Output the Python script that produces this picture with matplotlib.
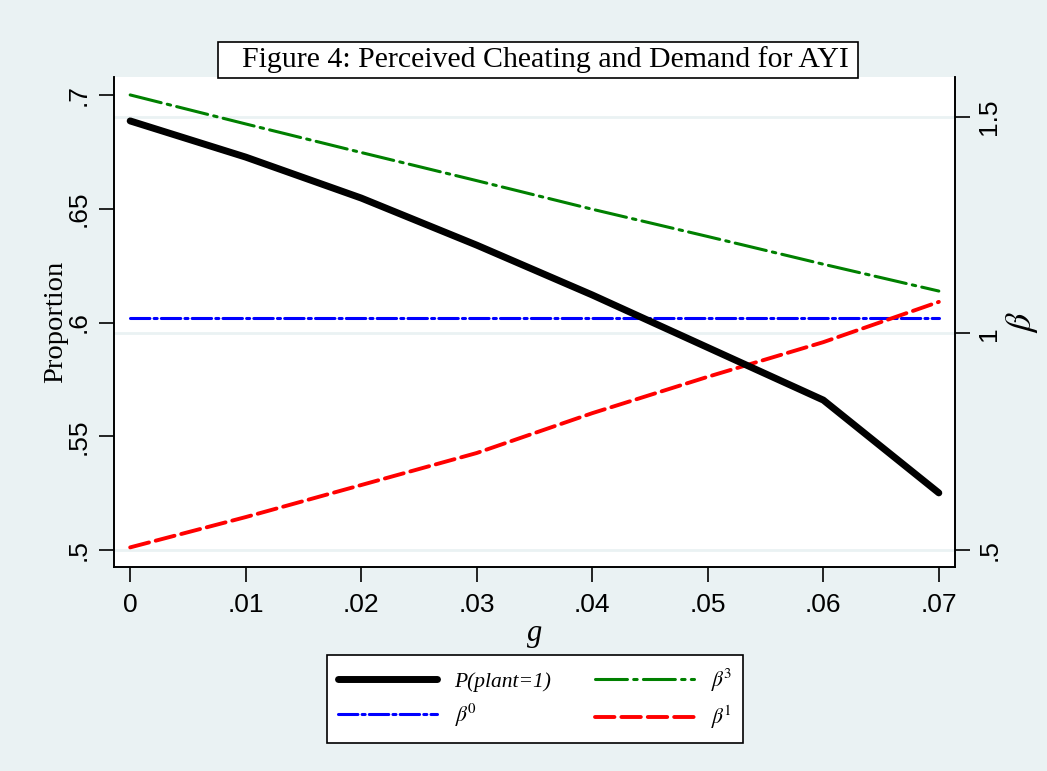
import matplotlib
matplotlib.use("Agg")
import matplotlib.pyplot as plt
from matplotlib.lines import Line2D
from matplotlib.patches import Rectangle

plt.rcParams['mathtext.fontset'] = 'stix'
plt.rcParams['lines.scale_dashes'] = False

# ---- data ----
g = [0.0, 0.01, 0.02, 0.03, 0.04, 0.05, 0.06, 0.07]
p_plant = [0.6886, 0.6727, 0.6547, 0.6340, 0.6121, 0.5890, 0.5659, 0.5251]
beta3 = [1.551, 1.484, 1.418, 1.353, 1.287, 1.224, 1.160, 1.098]
beta0 = [1.035, 1.035, 1.035, 1.035, 1.035, 1.035, 1.035, 1.035]
beta1 = [0.506, 0.576, 0.650, 0.724, 0.816, 0.900, 0.980, 1.073]

xticks = [0, 0.01, 0.02, 0.03, 0.04, 0.05, 0.06, 0.07]
xticklabels = ["0", ".01", ".02", ".03", ".04", ".05", ".06", ".07"]
lticks = [0.5, 0.55, 0.6, 0.65, 0.7]
lticklabels = [".5", ".55", ".6", ".65", ".7"]
rticks = [0.5, 1.0, 1.5]
rticklabels = [".5", "1", "1.5"]

BG = "#EAF2F3"
GRID = "#EAF2F3"
SANS = "Liberation Sans"
SERIF = "Liberation Serif"

fig = plt.figure(figsize=(10.47, 7.71), dpi=100, facecolor=BG)

# primary axes: beta axis (right side), drawn first so grid stays underneath
ax = fig.add_axes([114/1047, 1-567/771, (955-114)/1047, (567-77)/771])
ax.set_facecolor("white")
ax.set_xlim(-0.0014, 0.0714)
ax.set_ylim(0.4607, 1.5924)
for t in rticks:
    ax.axhline(t, color=GRID, lw=2.0, zorder=0.5)

ax.plot(g, beta3, color="#008000", lw=2.2, dashes=(23, 4.5, 2.5, 4.5),
        dash_capstyle="round", zorder=3)
ax.plot(g, beta0, color="#0000FF", lw=2.2, dashes=(14, 3, 2.2, 3),
        dash_capstyle="round", zorder=3)
ax.plot(g, beta1, color="#FF0000", lw=2.8, dashes=(14, 5),
        dash_capstyle="round", zorder=3)

ax.set_xticks(xticks)
ax.set_xticklabels(xticklabels, fontfamily=SANS, fontsize=19)
ax.set_xlabel("g", fontfamily=SERIF, style="italic", fontsize=22, labelpad=1)

# secondary axes: proportion (left side)
ax2 = ax.twinx()
ax2.yaxis.tick_left()
ax2.yaxis.set_label_position("left")
ax2.set_ylim(0.49253, 0.70791)
ax2.set_yticks(lticks)
ax2.set_yticklabels(lticklabels, rotation=90, va="center", fontfamily=SANS, fontsize=19)
ax2.plot(g, p_plant, color="black", lw=5.0, solid_capstyle="round",
         solid_joinstyle="round", zorder=4)
ax2.set_ylabel("Proportion", fontfamily=SERIF, fontsize=20.5, labelpad=-1)

# put beta axis back on the right
ax.yaxis.tick_right()
ax.yaxis.set_label_position("right")
ax.set_yticks(rticks)
ax.set_yticklabels(rticklabels, rotation=90, va="center", fontfamily=SANS, fontsize=19)
ax.set_ylabel(r"$\beta$", fontsize=26, rotation=90, labelpad=2)

for a in (ax, ax2):
    a.spines["top"].set_visible(False)
    for s in ("left", "right", "bottom"):
        a.spines[s].set_linewidth(1.2)
        a.spines[s].set_color("black")
    a.tick_params(axis="both", direction="out", length=11, width=1.2, pad=8)
ax.tick_params(axis="y", pad=5)
ax2.tick_params(axis="y", pad=6)

# title box
fig.patches.append(Rectangle((218/1047, 1-78/771), (858-218)/1047, 36/771,
                             transform=fig.transFigure, facecolor="white",
                             edgecolor="black", lw=1.2, zorder=1))
fig.text(545/1047, 1-60/771, "Figure 4: Perceived Cheating and Demand for AYI",
         ha="center", va="center", fontfamily=SERIF, fontsize=21.5, zorder=2)

# legend
h = [Line2D([], [], color="black", lw=5.0, solid_capstyle="round"),
     Line2D([], [], color="#0000FF", lw=2.2, dashes=(14, 3, 2.2, 3), dash_capstyle="round"),
     Line2D([], [], color="#008000", lw=2.2, dashes=(23, 4.5, 2.5, 4.5), dash_capstyle="round"),
     Line2D([], [], color="#FF0000", lw=2.8, dashes=(14, 5), dash_capstyle="round")]
labels = ["P(plant=1)", r"$\beta^{\!\mathit{0}}$", r"$\beta^{\!\mathit{3}}$", r"$\beta^{\!\mathit{1}}$"]
leg = fig.legend(h, labels, ncol=2, loc="center",
                 bbox_to_anchor=(535/1047, 1-699/771),
                 prop={"family": SERIF, "style": "italic", "size": 15.5},
                 frameon=True, fancybox=False, edgecolor="black", facecolor="white",
                 framealpha=1, handlelength=4.6, handletextpad=0.8,
                 columnspacing=2.0, labelspacing=0.45, borderpad=0.55,
                 borderaxespad=0)
leg.get_frame().set_linewidth(1.2)

fig.savefig("out.png", dpi=100, facecolor=BG)
